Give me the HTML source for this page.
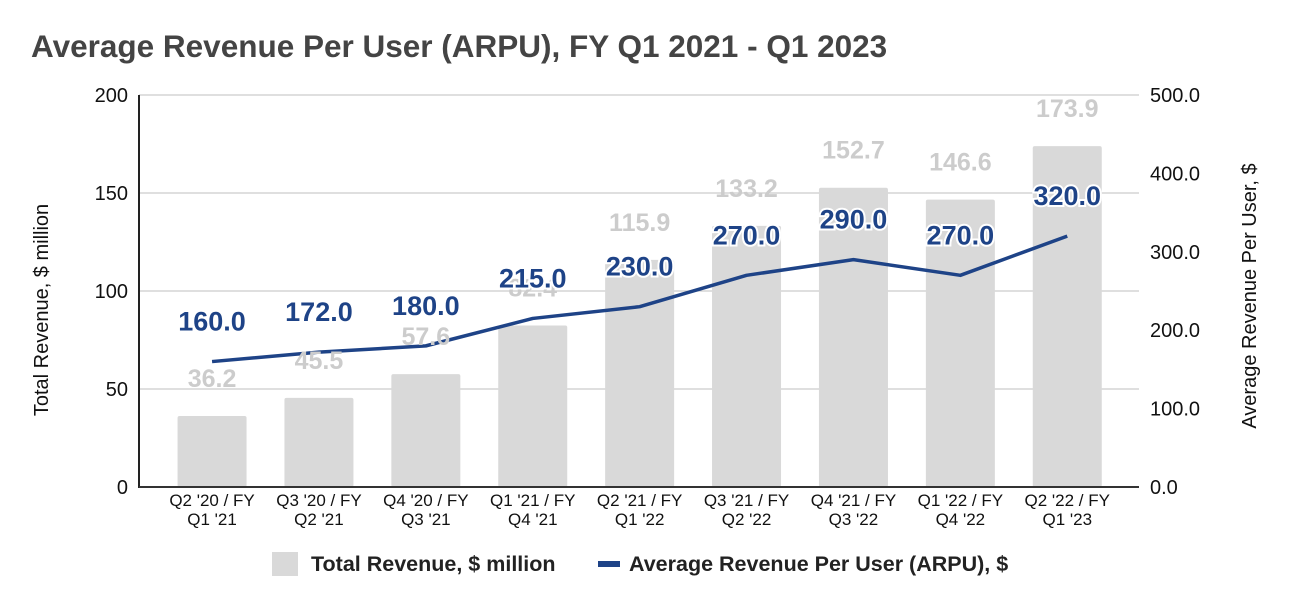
<!DOCTYPE html>
<html><head><meta charset="utf-8"><style>
body{margin:0;background:#fff;font-family:"Liberation Sans",Arial,sans-serif}
svg text{font-family:"Liberation Sans",Arial,sans-serif}
</style></head><body>
<svg id="c" width="1292" height="607" viewBox="0 0 1292 607">
<text x="31" y="57" font-size="31.5" font-weight="bold" fill="#444">Average Revenue Per User (ARPU), FY Q1 2021 - Q1 2023</text>
<g id="grid"></g><g id="bars"></g><g id="line"></g><g id="labels"></g><g id="axes"></g>
<text transform="translate(48,310) rotate(-90)" text-anchor="middle" font-size="20" fill="#111">Total Revenue, $ million</text>
<text transform="translate(1256,296) rotate(-90)" text-anchor="middle" font-size="20" fill="#111">Average Revenue Per User, $</text>
<g>
<rect x="272" y="552" width="26" height="24" fill="#d9d9d9"/>
<text x="311" y="571" font-size="21.5" font-weight="bold" fill="#222">Total Revenue, $ million</text>
<rect x="598" y="561" width="22" height="6" fill="#1e4387"/>
<text x="629" y="571" font-size="21.5" font-weight="bold" fill="#222">Average Revenue Per User (ARPU), $</text>
</g>
</svg>
<script>
const cats1=["Q2 '20 / FY","Q3 '20 / FY","Q4 '20 / FY","Q1 '21 / FY","Q2 '21 / FY","Q3 '21 / FY","Q4 '21 / FY","Q1 '22 / FY","Q2 '22 / FY"];
const cats2=["Q1 '21","Q2 '21","Q3 '21","Q4 '21","Q1 '22","Q2 '22","Q3 '22","Q4 '22","Q1 '23"];
const revenue=[36.2,45.5,57.6,82.4,115.9,133.2,152.7,146.6,173.9];
const arpu=[160,172,180,215,230,270,290,270,320];
const leftTicks=[0,50,100,150,200];
const rightTicks=[0,100,200,300,400,500];
const NS="http://www.w3.org/2000/svg";
const x0=158.6,step=106.9,bw=69,yTop=95,yBot=487,L=139,R=1139;
const yL=v=>yBot-(v/200)*(yBot-yTop);
const yR=v=>yBot-(v/500)*(yBot-yTop);
const xc=i=>x0+step*(i+0.5);
function mk(tag,attrs,parent,txt){const e=document.createElementNS(NS,tag);for(const k in attrs)e.setAttribute(k,attrs[k]);if(txt!==undefined)e.textContent=txt;document.getElementById(parent).appendChild(e);return e;}
leftTicks.forEach((t,i)=>{
 if(t>0){const g=mk('line',{x1:L,x2:R,y1:yL(t),y2:yL(t),stroke:'#ccc','stroke-width':1.2},'grid');
 
 }
 const tx=mk('text',{x:128,y:yL(t)+7,'text-anchor':'end','font-size':20,fill:'#111'},'axes',String(t));
 
 
});
rightTicks.forEach(t=>{
 const tx=mk('text',{x:1150,y:yR(t)+7,'font-size':20,fill:'#111'},'axes',t.toFixed(1));
 
 
});
const ax=mk('line',{x1:L,x2:L,y1:yTop,y2:yBot+1,stroke:'#222','stroke-width':2},'axes');


const bx=mk('line',{x1:L,x2:R,y1:yBot,y2:yBot,stroke:'#333','stroke-width':2},'axes');


revenue.forEach((v,i)=>{
 const r=mk('rect',{x:xc(i)-bw/2,y:yL(v),width:bw,height:yBot-yL(v),fill:'#d9d9d9',rx:2},'bars');
 
 
 const t=mk('text',{x:xc(i),y:Math.max(yL(v)-29,116),'text-anchor':'middle','font-size':25,'font-weight':'bold',fill:'#cccccc'},'labels',v.toFixed(1));
 
 
 const l1=mk('text',{x:xc(i),y:506,'text-anchor':'middle','font-size':17,fill:'#111'},'axes',cats1[i]);
 
 
 const l2=mk('text',{x:xc(i),y:525,'text-anchor':'middle','font-size':17,fill:'#111'},'axes',cats2[i]);
 
 
});
const p=mk('polyline',{points:arpu.map((v,i)=>xc(i)+','+yR(v)).join(' '),fill:'none',stroke:'#1e4387','stroke-width':3.5,'stroke-linejoin':'round'},'line');


arpu.forEach((v,i)=>{
 const t=mk('text',{x:xc(i),y:yR(v)-31,'text-anchor':'middle','font-size':27,'font-weight':'bold',fill:'#1e4387',stroke:'#fff','stroke-width':4,'paint-order':'stroke'},'labels',v.toFixed(1));
 
 
});
</script>
</body></html>
